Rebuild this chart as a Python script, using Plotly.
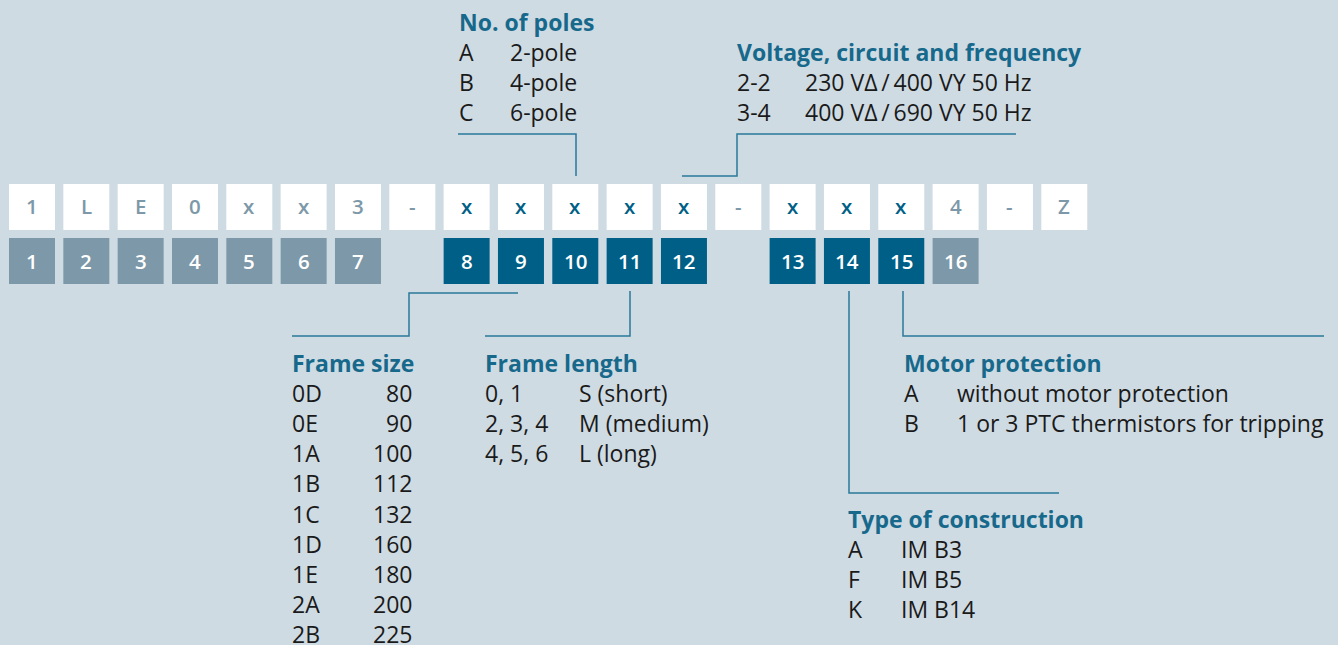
import plotly.graph_objects as go

# ---------------- data ----------------
code_chars = ["1", "L", "E", "0", "x", "x", "3", "-", "x", "x", "x", "x", "x",
              "-", "x", "x", "x", "4", "-", "Z"]
variable_positions = [9, 10, 11, 12, 13, 15, 16, 17]          # 1-based, blue "x"
index_labels = [str(i) for i in range(1, 17)]
index_positions = [1, 2, 3, 4, 5, 6, 7, 9, 10, 11, 12, 13, 15, 16, 17, 18]
index_variable = [False] * 7 + [True] * 8 + [False]

poles_title = "No. of poles"
poles_codes = ["A", "B", "C"]
poles_desc = ["2-pole", "4-pole", "6-pole"]

voltage_title = "Voltage, circuit and frequency"
voltage_codes = ["2-2", "3-4"]
voltage_desc = ["230 VΔ\u2009/\u2009400 VY 50 Hz", "400 VΔ\u2009/\u2009690 VY 50 Hz"]

frame_title = "Frame size"
frame_codes = ["0D", "0E", "1A", "1B", "1C", "1D", "1E", "2A", "2B"]
frame_sizes = ["80", "90", "100", "112", "132", "160", "180", "200", "225"]

length_title = "Frame length"
length_codes = ["0, 1", "2, 3, 4", "4, 5, 6"]
length_desc = ["S (short)", "M (medium)", "L (long)"]

protection_title = "Motor protection"
protection_codes = ["A", "B"]
protection_desc = ["without motor protection", "1 or 3 PTC thermistors for tripping"]

construction_title = "Type of construction"
construction_codes = ["A", "F", "K"]
construction_desc = ["IM B3", "IM B5", "IM B14"]

# ---------------- style ----------------
W, H = 1338, 645
BG = "#cfdbe3"
GRAY = "#7d98a8"
BLUE = "#005f86"
TITLE = "#17698c"
TEXT = "#1a1a1a"
LINE = "#2a7a99"
FONT = "Open Sans"
FS = 23
BOX_FS = 20.5
DX = -2  # compensate annotation padding

X0, PITCH, BW = 9, 54.33, 46
TOP_Y0, TOP_Y1 = 184, 230
BOT_Y0, BOT_Y1 = 238, 284
ROW = 30.1


def box_x(pos):
    return X0 + (pos - 1) * PITCH


shapes = []
annotations = []


def txt(x, y, s, color=TEXT, weight=400, anchor="left", size=FS):
    if anchor == "left":
        x += DX
    elif anchor == "right":
        x -= DX
    annotations.append(dict(
        x=x, y=y, xref="x", yref="y", text=s,
        showarrow=False, xanchor=anchor, yanchor="middle",
        font=dict(family=FONT, size=size, color=color, weight=weight)))


# code row
for i, ch in enumerate(code_chars):
    pos = i + 1
    x = box_x(pos)
    shapes.append(dict(type="rect", xref="x", yref="y", x0=x, x1=x + BW,
                       y0=TOP_Y0, y1=TOP_Y1, fillcolor="white", line_width=0, layer="below"))
    col = BLUE if pos in variable_positions else GRAY
    txt(x + BW / 2, (TOP_Y0 + TOP_Y1) / 2 - 1, ch, color=col, weight=600,
        anchor="center", size=BOX_FS)

# index row
for lab, pos, var in zip(index_labels, index_positions, index_variable):
    x = box_x(pos)
    shapes.append(dict(type="rect", xref="x", yref="y", x0=x, x1=x + BW,
                       y0=BOT_Y0, y1=BOT_Y1, fillcolor=BLUE if var else GRAY,
                       line_width=0, layer="below"))
    txt(x + BW / 2, (BOT_Y0 + BOT_Y1) / 2, lab, color="white", weight=600,
        anchor="center", size=BOX_FS)


def path(points):
    d = "M " + " L ".join(f"{px},{py}" for px, py in points)
    shapes.append(dict(type="path", xref="x", yref="y", path=d,
                       line=dict(color=LINE, width=1.5)))


# connector lines
path([(458, 134), (576, 134), (576, 176)])
path([(1016, 134), (737, 134), (737, 176), (682, 176)])
path([(518, 293), (409, 293), (409, 336), (292, 336)])
path([(630, 291), (630, 336), (485, 336)])
path([(849, 291), (849, 493), (1059, 493)])
path([(903, 291), (903, 336), (1324, 336)])


def block(x, y_title, title, codes, descs, desc_x, desc_anchor="left"):
    txt(x, y_title, title, color=TITLE, weight=700)
    for k, (c, d) in enumerate(zip(codes, descs)):
        y = y_title + ROW * (k + 1)
        txt(x, y, c)
        txt(desc_x, y, d, anchor=desc_anchor)


block(459, 22, poles_title, poles_codes, poles_desc, 510)
block(737, 52, voltage_title, voltage_codes, voltage_desc, 805)
block(292, 363, frame_title, frame_codes, frame_sizes, 412, "right")
block(485, 363, length_title, length_codes, length_desc, 579)
block(904, 363, protection_title, protection_codes, protection_desc, 957)
block(848, 519, construction_title, construction_codes, construction_desc, 901)

fig = go.Figure()
fig.add_trace(go.Scatter(x=[0, W], y=[0, H], mode="markers",
                         marker=dict(opacity=0), hoverinfo="skip", showlegend=False))
fig.update_layout(
    width=W, height=H, margin=dict(l=0, r=0, t=0, b=0),
    paper_bgcolor=BG, plot_bgcolor=BG,
    xaxis=dict(range=[0, W], visible=False, fixedrange=True),
    yaxis=dict(range=[H, 0], visible=False, fixedrange=True),
    shapes=shapes, annotations=annotations, showlegend=False,
)
fig.write_html("out.html", config={"displayModeBar": False},
               post_script="document.body.style.margin='0';document.body.style.overflow='hidden';")
